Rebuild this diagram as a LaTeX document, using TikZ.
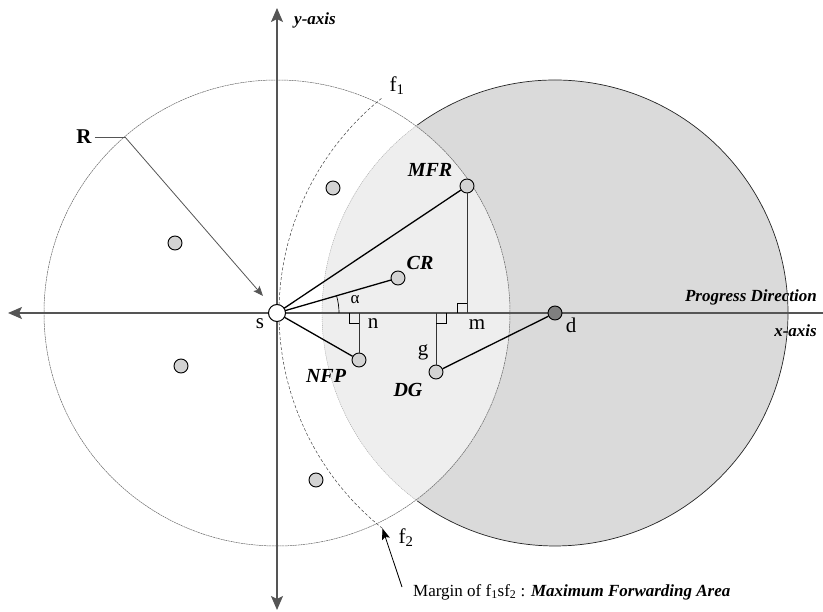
\documentclass[tikz,border=0pt]{standalone}
\usepackage{fontspec}
\setmainfont{Liberation Serif}
\usetikzlibrary{arrows.meta}
\definecolor{axisgray}{HTML}{555555}
\definecolor{regiongray}{HTML}{DADADA}
\definecolor{lensgray}{HTML}{EEEEEE}
\definecolor{nodegray}{HTML}{D3D3D3}
\definecolor{destgray}{HTML}{7F7F7F}
\begin{document}
\begin{tikzpicture}[x=1pt,y=-1pt,
  peer/.style={circle,draw=black,line width=0.9pt,fill=nodegray,minimum size=14pt,inner sep=0pt},
  srcnode/.style={circle,draw=black,line width=1pt,fill=white,minimum size=17pt,inner sep=0pt},
  dstnode/.style={circle,draw=black,line width=0.9pt,fill=destgray,minimum size=14pt,inner sep=0pt},
  lbl/.style={font=\fontsize{21}{24}\selectfont,inner sep=0pt},
  blbl/.style={font=\fontsize{20}{22}\selectfont\bfseries\itshape,inner sep=0pt},
  axlbl/.style={font=\fontsize{17}{19}\selectfont\bfseries\itshape,inner sep=0pt},
  link/.style={line width=1.3pt,black},
  drop/.style={line width=0.9pt,black!80},
  rmark/.style={line width=0.8pt,black},
  axisline/.style={line width=1.5pt,axisgray},
  bigtip/.style={-{Stealth[length=14pt,width=12pt,inset=3pt]}},
]
\useasboundingbox (0,0) rectangle (823,612);
\coordinate (sc) at (277,313);
\coordinate (dc) at (555,313);
% grey region
\fill[regiongray] (dc) circle[radius=233];
\begin{scope}
  \clip (sc) circle[radius=233];
  \fill[lensgray] (dc) circle[radius=233];
\end{scope}
% circle around s
\draw[line width=0.5pt,black!60,dash pattern=on 2pt off 0.6pt] (sc) circle[radius=233];
% circle around d: lens part faint, outer part dark
\draw[line width=0.4pt,black!35,dash pattern=on 1pt off 1pt] ([shift={(126.2:233)}]dc) arc[start angle=126.2,end angle=233.8,radius=233];
\draw[line width=0.7pt,black!85] ([shift={(-126.2:233)}]dc) arc[start angle=-126.2,end angle=126.2,radius=233];
% dashed arc f1 s f2
\coordinate (f1p) at ([shift={(-128.7:276)}]dc);
\coordinate (f2p) at ([shift={(128.7:276)}]dc);
\draw[line width=0.5pt,black!75,dash pattern=on 3pt off 2pt] (f2p) arc[start angle=128.7,end angle=231.3,radius=276];
% axes
\coordinate (xr) at (823,313);
\coordinate (xl) at (8,313);
\coordinate (yt) at (277,8);
\coordinate (yb) at (277,610);
\draw[axisline,bigtip] (xr) -- (xl);
\draw[axisline,bigtip] (sc) -- (yt);
\draw[axisline,bigtip] (sc) -- (yb);
% foot points
\coordinate (m) at (467,313);
\coordinate (n) at (359,313);
\coordinate (g) at (436,313);
% nodes
\node[peer] (o1) at (333,188) {};
\node[peer] (o2) at (175,243) {};
\node[peer] (o3) at (181,366) {};
\node[peer] (o4) at (316,480) {};
\node[peer] (mfr) at (467,186) {};
\node[peer] (cr) at (398,278) {};
\node[peer] (nfp) at (359,360) {};
\node[peer] (dg) at (436,372) {};
\node[dstnode] (d) at (dc) {};
% links
\draw[link] (sc) -- (mfr);
\draw[link] (sc) -- (cr);
\draw[link] (sc) -- (nfp);
\draw[link] (dg) -- (d);
\draw[drop] (mfr) -- (m);
\draw[drop] (nfp) -- (n);
\draw[drop] (dg) -- (g);
% right angle marks
\draw[rmark] ([shift={(-10,0)}]m) -- ++(0,-10) -- ++(10,0);
\draw[rmark] ([shift={(-10,0)}]n) -- ++(0,10) -- ++(10,0);
\draw[rmark] ([shift={(10,0)}]g) -- ++(0,10) -- ++(-10,0);
% angle alpha
\draw[line width=0.7pt,black] ([shift={(62,0)}]sc) arc[start angle=0,end angle=-16.1,radius=62];
% source on top
\node[srcnode] (s) at (sc) {};
% R leader
\coordinate (rc) at (125,137);
\node[font=\fontsize{21}{24}\selectfont\bfseries,inner sep=0pt] (rlab) at (84,137) {R};
\draw[line width=0.7pt,axisgray] (rlab.east) ++(3,0) -- (rc);
\draw[line width=0.8pt,axisgray,-{Stealth[length=10pt,width=8pt,inset=2pt]}] (rc) -- (263,296);
% labels
\node[blbl] (lmfr) at (430,170) {MFR};
\node[blbl] (lcr) at (420,263) {CR};
\node[blbl] (lnfp) at (326,376) {NFP};
\node[blbl] (ldg) at (408,390) {DG};
\node[lbl,font=\fontsize{17}{19}\selectfont] (lal) at (355,300) {α};
\node[lbl] (ls) at (260,324) {s};
\node[lbl] (ln) at (373,324) {n};
\node[lbl] (lm) at (477,325) {m};
\node[lbl] (lg) at (423,352) {g};
\node[lbl] (ld) at (571,325) {d};
\node[lbl] (lf1) at (397,86) {f\textsubscript{1}};
\node[lbl] (lf2) at (406,538) {f\textsubscript{2}};
\node[axlbl] (ly) at (315,20) {y-axis};
\node[axlbl,anchor=east] (lx) at (817,331) {x-axis};
\node[axlbl,anchor=east] (lpd) at (817,297) {Progress Direction};
% margin note
\node[font=\fontsize{17}{19}\selectfont,inner sep=0pt,anchor=west] (note) at (413,592) {Margin of f\textsubscript{1}sf\textsubscript{2} : \textbf{\textit{Maximum Forwarding Area}}};
\draw[line width=0.8pt,black,-{Stealth[length=11pt,width=8pt,inset=2pt]}] (402,587) -- (f2p);
\end{tikzpicture}
\end{document}
